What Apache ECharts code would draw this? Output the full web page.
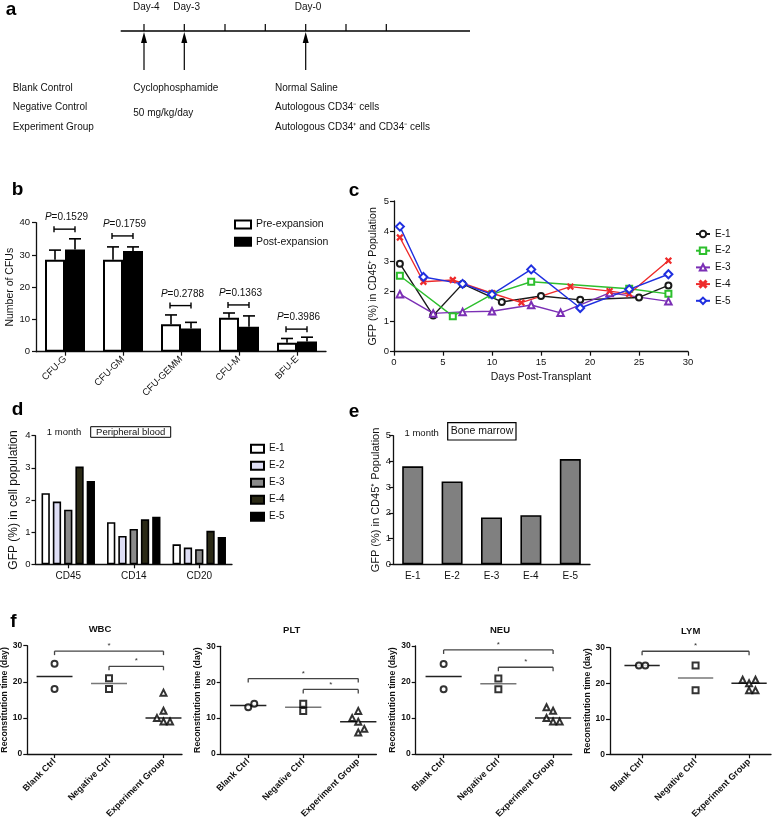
<!DOCTYPE html>
<html><head><meta charset="utf-8">
<script src="https://cdn.jsdelivr.net/npm/echarts@6/dist/echarts.min.js"></script>
<style>html,body{margin:0;padding:0;background:#fff}#c{width:778px;height:824px}</style>
</head><body><div id="c"></div>
<script>
// ---------- DATA ----------
// panel a
const aTickDays = ['Day-4', 'Day-3', '', '', 'Day-0', '', ''];
const aGroups = ['Blank Control', 'Negative Control', 'Experiment Group'];
const aDrug = ['Cyclophosphamide', '50 mg/kg/day'];
const aCells = ['Normal Saline', 'Autologous CD34\u207B cells', 'Autologous CD34\u207A and CD34\u207B cells'];
// panel b
const bCategories = ['CFU-G', 'CFU-GM', 'CFU-GEMM', 'CFU-M', 'BFU-E'];
const bPre = [28.5, 28.5, 8.5, 10.5, 2.8];
const bPreErr = [3.0, 4.0, 2.9, 1.5, 1.3];
const bPost = [31.7, 31.2, 7.2, 7.7, 3.2];
const bPostErr = [3.3, 1.3, 1.9, 3.4, 1.3];
const bPValues = ['0.1529', '0.1759', '0.2788', '0.1363', '0.3986'];
const bPBracket = [38.0, 35.9, 14.3, 14.5, 7.0];
// panel c
const cE1x = [0.6, 4, 7, 11, 15, 19, 25, 28];
const cE1y = [2.92, 1.2, 2.25, 1.65, 1.85, 1.72, 1.8, 2.2];
const cE2x = [0.6, 6, 10, 14, 24, 28];
const cE2y = [2.52, 1.18, 1.9, 2.32, 2.09, 1.92];
const cE3x = [0.6, 4, 7, 10, 14, 17, 22, 28];
const cE3y = [1.91, 1.27, 1.32, 1.34, 1.55, 1.29, 1.95, 1.67];
const cE4x = [0.6, 3, 6, 10, 13, 18, 22, 24, 28];
const cE4y = [3.79, 2.32, 2.38, 1.94, 1.63, 2.16, 2.01, 1.92, 3.02];
const cE5x = [0.6, 3, 7, 10, 14, 19, 24, 28];
const cE5y = [4.15, 2.48, 2.25, 1.90, 2.73, 1.45, 2.07, 2.57];
// panel d
const dCategories = ['CD45', 'CD14', 'CD20'];
const dE1 = [2.21, 1.31, 0.62];
const dE2 = [1.95, 0.88, 0.52];
const dE3 = [1.70, 1.10, 0.47];
const dE4 = [3.04, 1.40, 1.04];
const dE5 = [2.59, 1.48, 0.85];
// panel e
const eCategories = ['E-1', 'E-2', 'E-3', 'E-4', 'E-5'];
const eValues = [3.81, 3.22, 1.82, 1.91, 4.09];
// panel f
const fGroups = ['Blank Ctrl', 'Negative Ctrl', 'Experiment Group'];
const fTitles = ['WBC', 'PLT', 'NEU', 'LYM'];
const wbcBlank = [25, 18], wbcBlankX = [1, 1];
const wbcNeg = [21, 18], wbcNegX = [2, 2];
const wbcExp = [17, 12, 10, 9, 9], wbcExpX = [3, 3, 2.88, 3, 3.12];
const wbcMedian = [21.5, 19.5, 10];
const wbcSig = [[1, 3, 28.5], [2, 3, 24.3]];
const pltBlank = [13, 14], pltBlankX = [1, 1.11];
const pltNeg = [14, 12], pltNegX = [2, 2];
const pltExp = [12, 10, 9, 6, 7], pltExpX = [3, 2.89, 3, 3, 3.11];
const pltMedian = [13.5, 13, 9];
const pltSig = [[1, 3, 21], [2, 3, 18]];
const neuBlank = [25, 18], neuBlankX = [1, 1];
const neuNeg = [21, 18], neuNegX = [2, 2];
const neuExp = [13, 12, 10, 9, 9], neuExpX = [2.88, 3, 2.88, 3, 3.12];
const neuMedian = [21.5, 19.5, 10];
const neuSig = [[1, 3, 28.9], [2, 3, 24.1]];
const lymBlank = [25, 25], lymBlankX = [0.94, 1.06];
const lymNeg = [25, 18], lymNegX = [2, 2];
const lymExp = [21, 20, 21, 18, 18], lymExpX = [2.88, 3, 3.12, 3, 3.12];
const lymMedian = [25, 21.5, 20];
const lymSig = [[1, 3, 29]];

// ---------- HELPERS ----------
const FONT = "'Liberation Sans', Arial, Helvetica, sans-serif";
const INK = '#111';
const zip = (xs, ys) => xs.map((x, i) => [x, ys[i]]);

function valAxis(grid, min, max, interval, extra) {
  return Object.assign({
    type: 'value', gridIndex: grid, min, max, interval,
    axisLine: { show: true, onZero: false, lineStyle: { color: INK, width: 1.3 } },
    axisTick: { show: true, inside: false, length: 4, lineStyle: { color: INK, width: 1.2 } },
    axisLabel: { color: INK, fontSize: 9.5, fontFamily: FONT, margin: 6 },
    splitLine: { show: false }
  }, extra || {});
}
function catAxis(grid, data, extra) {
  return Object.assign({
    type: 'category', gridIndex: grid, data,
    axisLine: { show: true, lineStyle: { color: INK, width: 1.3 } },
    axisTick: { show: true, alignWithLabel: true, length: 4, lineStyle: { color: INK, width: 1.2 } },
    axisLabel: { color: INK, fontSize: 9.5, fontFamily: FONT, margin: 6, interval: 0 },
    splitLine: { show: false }
  }, extra || {});
}

const grids = [
  { left: 36, top: 222.7, width: 290, height: 129 },      // b
  { left: 394, top: 201, width: 294, height: 150.7 },     // c
  { left: 35.5, top: 435.7, width: 196.5, height: 128.6 },// d
  { left: 393, top: 435.7, width: 197, height: 128.6 },   // e
  { left: 27.3, top: 645.7, width: 154.7, height: 108.3 },// WBC
  { left: 220.7, top: 646.3, width: 155.7, height: 107.7 },// PLT
  { left: 415.7, top: 646, width: 156, height: 108 },     // NEU
  { left: 610, top: 647.7, width: 161, height: 106.6 }    // LYM
].map(g => Object.assign({ outerBoundsMode: 'none', containLabel: false }, g));

const xAxes = [], yAxes = [], series = [];

// ----- b -----
xAxes.push(catAxis(0, bCategories, {
  axisLabel: { color: INK, fontSize: 9.5, fontFamily: FONT, margin: 6, rotate: 45, interval: 0 }
}));
yAxes.push(valAxis(0, 0, 40, 10, {
  name: 'Number of CFUs', nameLocation: 'middle', nameGap: 20, nameRotate: 90,
  nameTextStyle: { fontSize: 10.5, color: INK, fontFamily: FONT }
}));
series.push({
  type: 'bar', name: 'Pre-expansion', xAxisIndex: 0, yAxisIndex: 0, data: bPre,
  barWidth: 20, barGap: '0%',
  itemStyle: { color: '#fff', borderColor: '#000', borderWidth: 2 }
});
series.push({
  type: 'bar', name: 'Post-expansion', xAxisIndex: 0, yAxisIndex: 0, data: bPost,
  barWidth: 20, barGap: '0%',
  itemStyle: { color: '#000', borderColor: '#000', borderWidth: 2 }
});
function errRender(sign) {
  return function (params, api) {
    const i = api.value(0), v = api.value(1), e = api.value(2);
    const base = api.coord([i, v]), top = api.coord([i, v + e]);
    const x = base[0] + sign * 10;
    const st = { stroke: '#000', lineWidth: 1.6 };
    return { type: 'group', children: [
      { type: 'line', shape: { x1: x, y1: base[1], x2: x, y2: top[1] }, style: st },
      { type: 'line', shape: { x1: x - 6, y1: top[1], x2: x + 6, y2: top[1] }, style: st }
    ] };
  };
}
series.push({ type: 'custom', name: 'preErr', xAxisIndex: 0, yAxisIndex: 0, z: 5,
  data: bPre.map((v, i) => [i, v, bPreErr[i]]), renderItem: errRender(-1) });
series.push({ type: 'custom', name: 'postErr', xAxisIndex: 0, yAxisIndex: 0, z: 5,
  data: bPost.map((v, i) => [i, v, bPostErr[i]]), renderItem: errRender(1) });
series.push({ type: 'custom', name: 'pBrackets', xAxisIndex: 0, yAxisIndex: 0, z: 5,
  data: bPBracket.map((y, i) => [i, y]),
  renderItem: function (params, api) {
    const i = api.value(0), y = api.value(1);
    const c = api.coord([i, y]);
    const st = { stroke: '#000', lineWidth: 1.4 };
    return { type: 'group', children: [
      { type: 'line', shape: { x1: c[0] - 11, y1: c[1], x2: c[0] + 10, y2: c[1] }, style: st },
      { type: 'line', shape: { x1: c[0] - 11, y1: c[1] - 3, x2: c[0] - 11, y2: c[1] + 3 }, style: st },
      { type: 'line', shape: { x1: c[0] + 10, y1: c[1] - 3, x2: c[0] + 10, y2: c[1] + 3 }, style: st },
      { type: 'text', x: c[0] + 1.5, y: c[1] - 11.5, style: {
        text: '{i|P}=' + bPValues[i], fill: INK, fontSize: 10, fontFamily: FONT,
        align: 'center', verticalAlign: 'middle',
        rich: { i: { fontStyle: 'italic', fontSize: 10, fontFamily: FONT, fill: INK } } } }
    ] };
  } });

// ----- c -----
xAxes.push(valAxis(1, 0, 30, 5, {
  name: 'Days Post-Transplant', nameLocation: 'middle', nameGap: 20,
  nameTextStyle: { fontSize: 10.5, color: INK, fontFamily: FONT }
}));
yAxes.push(valAxis(1, 0, 5, 1, {
  name: 'GFP (%) in CD45\u207A Population', nameLocation: 'middle', nameGap: 15, nameRotate: 90,
  nameTextStyle: { fontSize: 10.5, color: INK, fontFamily: FONT },
  axisLabel: { color: INK, fontSize: 9.5, fontFamily: FONT, margin: 5 }
}));
const X_PATH = 'path://M0,1.2L1.2,0L5,3.8L8.8,0L10,1.2L6.2,5L10,8.8L8.8,10L5,6.2L1.2,10L0,8.8L3.8,5Z';
const cSeries = [
  ['E-1', cE1x, cE1y, '#1a1a1a', 'emptyCircle', 6],
  ['E-2', cE2x, cE2y, '#2dbf2d', 'emptyRect', 6],
  ['E-3', cE3x, cE3y, '#7b2fb5', 'emptyTriangle', 6.5],
  ['E-4', cE4x, cE4y, '#ee2b2b', X_PATH, 5.5],
  ['E-5', cE5x, cE5y, '#1f2fe0', 'emptyDiamond', 8]
];
cSeries.forEach(s => series.push({
  type: 'line', name: s[0], xAxisIndex: 1, yAxisIndex: 1, data: zip(s[1], s[2]),
  symbol: s[4], symbolSize: s[5], showAllSymbol: true,
  lineStyle: { color: s[3], width: 1.4 },
  itemStyle: { color: s[3], borderColor: s[3], borderWidth: 1.3 }
}));

// ----- d -----
xAxes.push(catAxis(2, dCategories, {
  axisLabel: { color: INK, fontSize: 10, fontFamily: FONT, margin: 7, interval: 0 }
}));
yAxes.push(valAxis(2, 0, 4, 1, {
  name: 'GFP (%) in cell population', nameLocation: 'middle', nameGap: 16, nameRotate: 90,
  nameTextStyle: { fontSize: 12, color: INK, fontFamily: FONT },
  axisLabel: { color: INK, fontSize: 9.5, fontFamily: FONT, margin: 5 }
}));
const dNames = ['E-1 ', 'E-2 ', 'E-3 ', 'E-4 ', 'E-5 '];
const dColors = ['#ffffff', '#dedef5', '#8a8a8a', '#2b2a16', '#000000'];
[dE1, dE2, dE3, dE4, dE5].forEach((vals, k) => series.push({
  type: 'bar', name: dNames[k], xAxisIndex: 2, yAxisIndex: 2, data: vals,
  barWidth: 8.3, barGap: '36%',
  itemStyle: { color: dColors[k], borderColor: '#000', borderWidth: 1.6 }
}));

// ----- e -----
xAxes.push(catAxis(3, eCategories, {
  axisTick: { show: false },
  axisLabel: { color: INK, fontSize: 10, fontFamily: FONT, margin: 7, interval: 0 }
}));
yAxes.push(valAxis(3, 0, 5, 1, {
  name: 'GFP (%) in CD45\u207A Population', nameLocation: 'middle', nameGap: 9, nameRotate: 90,
  nameTextStyle: { fontSize: 11, color: INK, fontFamily: FONT },
  axisLabel: { color: INK, fontSize: 9.5, fontFamily: FONT, margin: 2 }
}));
series.push({
  type: 'bar', name: 'Bone marrow GFP', xAxisIndex: 3, yAxisIndex: 3, data: eValues,
  barWidth: 21, itemStyle: { color: '#808080', borderColor: '#000', borderWidth: 1.6 }
});

// ----- f -----
const fPanels = [
  [wbcBlank, wbcBlankX, wbcNeg, wbcNegX, wbcExp, wbcExpX, wbcMedian, wbcSig, 0.5, 3.34],
  [pltBlank, pltBlankX, pltNeg, pltNegX, pltExp, pltExpX, pltMedian, pltSig, 0.5, 3.33],
  [neuBlank, neuBlankX, neuNeg, neuNegX, neuExp, neuExpX, neuMedian, neuSig, 0.49, 3.34],
  [lymBlank, lymBlankX, lymNeg, lymNegX, lymExp, lymExpX, lymMedian, lymSig, 0.4, 3.41]
];
fPanels.forEach((p, k) => {
  const gi = 4 + k;
  xAxes.push({
    type: 'value', gridIndex: gi, min: p[8], max: p[9],
    axisLine: { show: true, onZero: false, lineStyle: { color: INK, width: 1.3 } },
    axisTick: { show: true, length: 4, customValues: [1, 2, 3], lineStyle: { color: INK, width: 1.2 } },
    axisLabel: { show: true, customValues: [1, 2, 3], rotate: 45, margin: 6,
      color: INK, fontSize: 9, fontWeight: 'bold', fontFamily: FONT,
      formatter: v => fGroups[Math.round(v) - 1] || '' },
    splitLine: { show: false }
  });
  yAxes.push(valAxis(gi, 0, 30, 10, {
    name: 'Reconstitution time (day)', nameLocation: 'middle', nameGap: 16, nameRotate: 90,
    nameTextStyle: { fontSize: 8.8, fontWeight: 'bold', color: INK, fontFamily: FONT },
    axisLabel: { color: INK, fontSize: 8.5, fontWeight: 'bold', fontFamily: FONT, margin: 5 }
  }));
  const sym = ['emptyCircle', 'emptyRect', 'emptyTriangle'];
  [[p[0], p[1]], [p[2], p[3]], [p[4], p[5]]].forEach((g, j) => series.push({
    type: 'scatter', name: fTitles[k] + ' ' + fGroups[j], xAxisIndex: gi, yAxisIndex: gi,
    data: zip(g[1], g[0]), symbol: sym[j], symbolSize: 6, z: 4,
    itemStyle: { color: '#000', borderColor: '#000', borderWidth: 1.2 }
  }));
  series.push({
    type: 'custom', name: fTitles[k] + ' median', xAxisIndex: gi, yAxisIndex: gi, z: 3,
    data: p[6].map((m, j) => [j + 1, m]),
    renderItem: function (params, api) {
      const x = api.value(0), y = api.value(1);
      const a = api.coord([x - 0.33, y]), b = api.coord([x + 0.33, y]);
      return { type: 'line', shape: { x1: a[0], y1: a[1], x2: b[0], y2: b[1] },
        style: { stroke: x === 2 ? '#777' : '#222', lineWidth: 1.5 } };
    }
  });
  series.push({
    type: 'custom', name: fTitles[k] + ' sig', xAxisIndex: gi, yAxisIndex: gi, z: 3,
    data: p[7],
    renderItem: function (params, api) {
      const a = api.coord([api.value(0), api.value(2)]), b = api.coord([api.value(1), api.value(2)]);
      const st = { stroke: '#444', lineWidth: 1.3 };
      return { type: 'group', children: [
        { type: 'line', shape: { x1: a[0], y1: a[1], x2: b[0], y2: b[1] }, style: st },
        { type: 'line', shape: { x1: a[0], y1: a[1], x2: a[0], y2: a[1] + 4 }, style: st },
        { type: 'line', shape: { x1: b[0], y1: b[1], x2: b[0], y2: b[1] + 4 }, style: st },
        { type: 'text', x: (a[0] + b[0]) / 2, y: a[1] - 1, style: { text: '*', fill: '#333',
          fontSize: 8, fontFamily: FONT, align: 'center', verticalAlign: 'bottom' } }
      ] };
    }
  });
});

// ---------- GRAPHICS (panel a, labels, annotation boxes) ----------
const g = [];
function txt(x, y, text, size, opts) {
  g.push({ type: 'text', x, y, silent: true, style: Object.assign({
    text, fill: INK, fontSize: size, fontFamily: FONT, align: 'left', verticalAlign: 'middle'
  }, opts || {}) });
}
// panel letters
[['a', 11, 10], ['b', 17.5, 190], ['c', 354, 191], ['d', 17.5, 410], ['e', 354, 412], ['f', 13.5, 621.5]]
  .forEach(l => txt(l[1], l[2], l[0], 19, { fontWeight: 'bold', align: 'center', fill: '#000' }));
// timeline
g.push({ type: 'line', silent: true, shape: { x1: 120.7, y1: 31, x2: 470, y2: 31 }, style: { stroke: '#000', lineWidth: 1.6 } });
const tickXs = [144, 184.3, 225, 265.3, 305.7, 346, 386.3];
tickXs.forEach((x, i) => {
  g.push({ type: 'line', silent: true, shape: { x1: x, y1: 24, x2: x, y2: 31 }, style: { stroke: '#000', lineWidth: 1.2 } });
  if (aTickDays[i]) txt(x + 2.3, 7.5, aTickDays[i], 10, { align: 'center' });
});
[0, 1, 4].forEach(i => {
  const x = tickXs[i];
  g.push({ type: 'line', silent: true, shape: { x1: x, y1: 40, x2: x, y2: 70 }, style: { stroke: '#000', lineWidth: 1.2 } });
  g.push({ type: 'polygon', silent: true, shape: { points: [[x, 32], [x - 3, 43], [x + 3, 43]] }, style: { fill: '#000' } });
});
aGroups.forEach((t, i) => txt(12.7, [88.3, 107.7, 127.7][i], t, 10));
aDrug.forEach((t, i) => txt(133.3, [88.3, 113.7][i], t, 10));
aCells.forEach((t, i) => txt(275, [88.3, 107.7, 127.7][i], t, 10));
// d / e annotations
txt(64, 432, '1 month', 9.5, { align: 'center' });
g.push({ type: 'rect', silent: true, shape: { x: 90.7, y: 426.7, width: 80, height: 10.6 }, style: { fill: '#fff', stroke: '#000', lineWidth: 1 } });
txt(130.7, 432, 'Peripheral blood', 9.5, { align: 'center' });
txt(421.7, 433, '1 month', 9.5, { align: 'center' });
g.push({ type: 'rect', silent: true, shape: { x: 447.7, y: 422.7, width: 68.3, height: 17.3 }, style: { fill: '#fff', stroke: '#000', lineWidth: 1.2 } });
txt(482, 431.5, 'Bone marrow', 10.5, { align: 'center' });
// f titles
[[100, 629], [291.7, 630], [500, 630], [690.7, 631]].forEach((p, k) =>
  txt(p[0], p[1], fTitles[k], 9.5, { align: 'center', fontWeight: 'bold' }));

// ---------- OPTION ----------
const option = {
  animation: false,
  backgroundColor: '#fff',
  textStyle: { fontFamily: FONT },
  grid: grids,
  xAxis: xAxes,
  yAxis: yAxes,
  legend: [
    { data: ['Pre-expansion', 'Post-expansion'], orient: 'vertical', left: 229, top: 214,
      itemWidth: 16, itemHeight: 8, itemGap: 6.3, icon: 'rect', selectedMode: false,
      textStyle: { fontSize: 10.5, color: INK, fontFamily: FONT } },
    { data: ['E-1', 'E-2', 'E-3', 'E-4', 'E-5'], orient: 'vertical', left: 690, top: 224,
      itemWidth: 14, itemHeight: 8, itemGap: 6.7, selectedMode: false,
      textStyle: { fontSize: 10, color: INK, fontFamily: FONT } },
    { data: dNames, orient: 'vertical', left: 245, top: 438.7,
      itemWidth: 13, itemHeight: 8, itemGap: 7, icon: 'rect', selectedMode: false,
      textStyle: { fontSize: 10, color: INK, fontFamily: FONT } }
  ],
  series,
  graphic: g
};
const chart = echarts.init(document.getElementById('c'), null, { renderer: 'canvas', width: 778, height: 824 });
chart.setOption(option);
</script>
</body></html>
